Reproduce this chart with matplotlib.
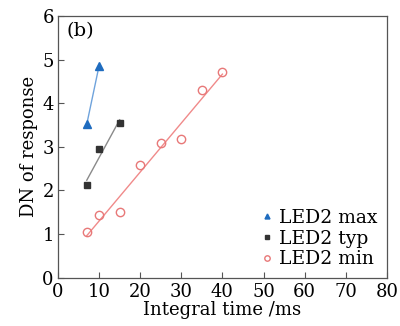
import numpy as np
import matplotlib
matplotlib.use("Agg")
import matplotlib.pyplot as plt

plt.rcParams['font.family'] = ['DejaVu Serif']

# data
t_max = [7, 10]
dn_max = [3.52, 4.86]
t_typ = [7, 10, 15]
dn_typ = [2.12, 2.94, 3.55]
t_min = [7, 10, 15, 20, 25, 30, 35, 40]
dn_min = [1.05, 1.43, 1.51, 2.59, 3.08, 3.17, 4.31, 4.71]

fig = plt.figure(figsize=(4, 3.26), dpi=100)
ax = fig.add_axes([0.145, 0.148, 0.822, 0.803])

def fit_line(x, y, color):
    k, b = np.polyfit(x, y, 1)
    xs = np.array([min(x), max(x)])
    ax.plot(xs, k * xs + b, color=color, lw=1.0, zorder=1)

fit_line(t_max, dn_max, '#6fa3dc')
fit_line(t_typ, dn_typ, '#8a8a8a')
fit_line(t_min, dn_min, '#f08a8a')

ax.plot(t_max, dn_max, '^', color='#1f6cbf', ms=5.5, ls='none', label='LED2 max')
ax.plot(t_typ, dn_typ, 's', color='#333333', ms=4.5, ls='none', label='LED2 typ')
ax.plot(t_min, dn_min, 'o', mfc='none', mec='#e87878', mew=1.0, ms=6, ls='none',
        label='LED2 min')

ax.set_xlim(0, 80)
ax.set_ylim(0, 6)
ax.set_xticks(range(0, 81, 10))
ax.set_yticks(range(0, 7))
ax.tick_params(direction='in', length=4, labelsize=13, color='#555555')
ax.tick_params(axis='x', pad=4)
ax.tick_params(axis='y', pad=3)
for s in ax.spines.values():
    s.set_color('#555555')
    s.set_linewidth(0.9)

ax.set_xlabel('Integral time /ms', fontsize=13, labelpad=0)
ax.set_ylabel('DN of response', fontsize=13, labelpad=3)
ax.text(0.025, 0.975, '(b)', transform=ax.transAxes, fontsize=14, va='top', ha='left')

ax.legend(loc='lower right', frameon=False, fontsize=13.5, markerscale=0.65,
          handlelength=0.5, handletextpad=0.4, labelspacing=0.15,
          borderaxespad=0.1)

fig.savefig('out.png', dpi=100)
